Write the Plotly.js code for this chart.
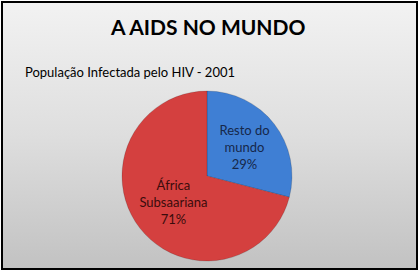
<!DOCTYPE html>
<html>
<head>
<meta charset="utf-8">
<script src="https://cdn.plot.ly/plotly-3.0.1.min.js"></script>
<style>
html,body{margin:0;padding:0;background:#ffffff;}
#wrap{position:absolute;left:1px;top:1px;width:413px;height:265px;border:2px solid #000;
background:linear-gradient(to bottom,#f2f2f2 0%,#dedede 50%,#c2c2c2 100%);}
#chart{position:absolute;left:-3px;top:-3px;width:419px;height:271px;}
</style>
</head>
<body>
<div id="wrap"><div id="chart"></div></div>
<script>
var labels = ['Resto do<br>mundo', 'África<br>Subsaariana'];
var values = [29, 71];
var colors = ['#3f7fd4', '#d4403f'];
var textColors = ['#16284a', '#3a0c0c'];
var titleText = 'A AIDS NO MUNDO';
var subtitleText = 'População Infectada pelo HIV - 2001';

var W = 419, H = 271;
var cx = 207, cy = 176, r = 85;

var trace = {
  type: 'pie',
  labels: labels,
  values: values,
  sort: false,
  direction: 'clockwise',
  rotation: 0,
  marker: {colors: colors, line: {color: 'rgba(0,0,0,0.15)', width: 1}},
  texttemplate: '%{label}<br>%{percent:.0%}',
  textposition: 'inside',
  insidetextorientation: 'horizontal',
  textfont: {family: 'Lato, "Open Sans", sans-serif', size: 13, color: textColors},
  hoverinfo: 'none',
  showlegend: false,
  domain: {x: [(cx - r) / W, (cx + r) / W], y: [(H - cy - r) / H, (H - cy + r) / H]}
};

var layout = {
  width: W, height: H,
  margin: {l: 0, r: 0, t: 0, b: 0},
  paper_bgcolor: 'rgba(0,0,0,0)',
  plot_bgcolor: 'rgba(0,0,0,0)',
  title: {text: '<b>' + titleText + '</b>', font: {family: 'Lato, sans-serif', size: 21, color: '#000'},
          x: 0.497, xanchor: 'center', y: 1 - 28 / H, yanchor: 'middle'},
  annotations: [{
    text: subtitleText, xref: 'paper', yref: 'paper', x: 23 / W, y: 1 - 72 / H,
    xanchor: 'left', yanchor: 'middle', showarrow: false,
    font: {family: 'Lato, sans-serif', size: 13, color: '#000'}
  }]
};

Plotly.newPlot('chart', [trace], layout, {displayModeBar: false, staticPlot: true});
</script>
</body>
</html>
